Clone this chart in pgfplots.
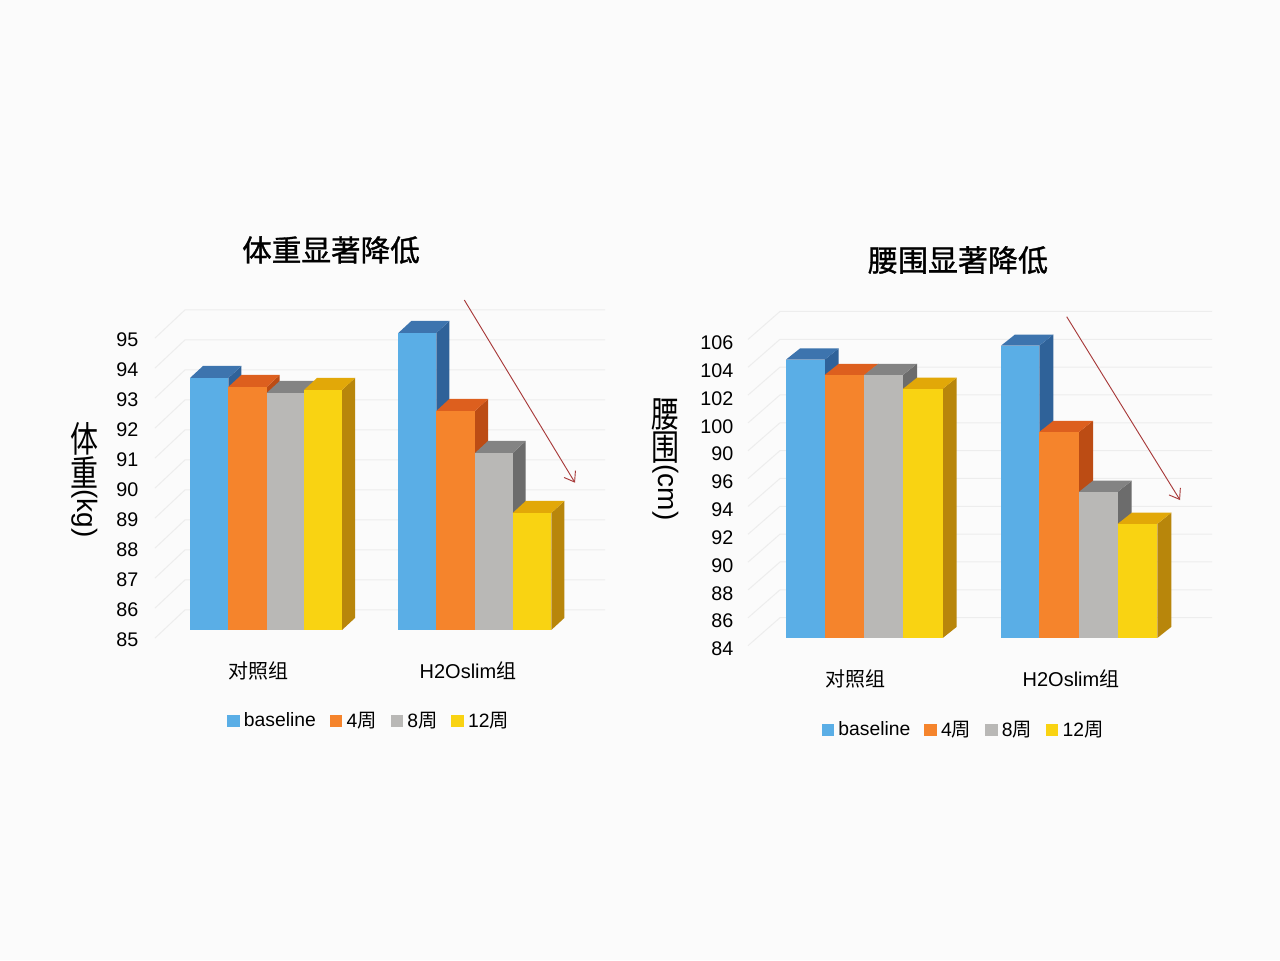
\documentclass[border=0pt]{standalone}
\usepackage{fontspec}
\usepackage{pgfplots}
\pgfplotsset{compat=1.18}
\usetikzlibrary{arrows.meta}
\setmainfont{Liberation Sans}
\newfontfamily\cjk{Noto Sans CJK SC}
\newfontfamily\cjktitle[FakeBold=1.1]{Noto Sans CJK SC}

\definecolor{pagebg}{HTML}{FBFBFB}
\definecolor{gridc}{HTML}{EDEDED}
\definecolor{arrowc}{HTML}{A83A3A}
\definecolor{blueF}{HTML}{5AAEE6}
\definecolor{blueT}{HTML}{3D74AE}
\definecolor{blueS}{HTML}{2F6299}
\definecolor{orangeF}{HTML}{F5842C}
\definecolor{orangeT}{HTML}{DD5F1E}
\definecolor{orangeS}{HTML}{BC4C14}
\definecolor{grayF}{HTML}{B9B8B6}
\definecolor{grayT}{HTML}{838383}
\definecolor{grayS}{HTML}{6C6C6C}
\definecolor{yellowF}{HTML}{F9D312}
\definecolor{yellowT}{HTML}{E2A808}
\definecolor{yellowS}{HTML}{B8860B}

% one 3d bar: x left, x right, value, colour prefix (x is in picture pixels)
\newcommand{\threedbar}[4]{%
  \pgfmathsetmacro\xb{#2+\depthx}%
  \pgfmathsetmacro\xc{#1+\depthx}%
  \pgfmathsetmacro\vb{#3+\depthy}%
  \pgfmathsetmacro\bb{\barbase+\depthy}%
  \addplot[forget plot,draw=none,fill=#4S] coordinates {(#2,\barbase)(#2,#3)(\xb,\vb)(\xb,\bb)};
  \addplot[forget plot,draw=none,fill=#4T] coordinates {(#1,#3)(#2,#3)(\xb,\vb)(\xc,\vb)};
  \addplot[forget plot,draw=none,fill=#4F] coordinates {(#1,\barbase)(#1,#3)(#2,#3)(#2,\barbase)};
}
% wall line of the fake 3d grid
\newcommand{\wallline}[1]{%
  \pgfmathsetmacro\vf{#1+\gridfront}%
  \pgfmathsetmacro\vk{#1+\gridback}%
  \addplot[forget plot,gridc,line width=0.75pt] coordinates {(\gridxa,\vf)(\gridxb,\vk)(\gridxc,\vk)};
}
\newcommand{\legendbox}[1]{%
  \addlegendimage{legend image code/.code={\fill[#1] (0pt,-4.2pt) rectangle (8.6pt,4.4pt);}}
}
% upright, slightly stretched character for the vertical axis titles
\newcommand{\upchar}[1]{\raisebox{-5.25pt}{\rotatebox{90}{\scalebox{1}[1.28]{\cjk #1}}}\hspace{1pt}}

\pgfplotsset{
  chart/.style={
    scale only axis,
    clip=false,
    axis line style={draw=none},
    major tick length=0pt,
    tick style={draw=none},
    tick label style={font=\fontsize{14.8}{16}\selectfont},
    /pgf/number format/assume math mode=true,
    xticklabel style={font=\fontsize{15}{17}\selectfont,anchor=center},
    legend columns=4,
    legend cell align=left,
    legend style={draw=none,fill=none,font=\fontsize{14.5}{16}\selectfont,
      /tikz/every even column/.append style={column sep=8.5pt},
      /tikz/every odd column/.append style={column sep=1.5pt}},
    every axis y label/.style={rotate=-90,anchor=center,font=\fontsize{21}{23}\selectfont},
  }
}

\begin{document}
\begin{tikzpicture}
\path[fill=pagebg] (0,0) rectangle (960pt,720pt);

% left chart: body weight
\begin{axis}[chart,
  at={(105pt,238.5pt)},anchor=south west,
  width=360pt,height=252pt,
  xmin=140,xmax=620,ymin=84.6,ymax=95.8,
  ytick={85,86,87,88,89,90,91,92,93,94,95},
  yticklabel style={yshift=-7.5pt,xshift=2.25pt},
  xtick={258,468},
  xticklabels={{\cjk 对照组},{H2Oslim\cjk 组}},
  xticklabel style={yshift=-21.75pt},
  title={\cjktitle 体重显著降低},
  title style={at={(axis description cs:0.398,1.1667)},anchor=center,yshift=-6pt,font=\fontsize{22.2}{24}\selectfont},
  ylabel={\upchar{体}\upchar{重}(kg)},
  every axis y label/.append style={at={(axis description cs:-0.1158,0.482)}},
  legend style={at={(axis description cs:0.4780,-0.235)},anchor=center},
]
\def\barbase{85}\def\depthx{13}\def\depthy{0.4}
\def\gridxa{155}\def\gridxb{185}\def\gridxc{605}\def\gridfront{-0.27}\def\gridback{0.67}
\pgfplotsinvokeforeach{85,86,87,88,89,90,91,92,93,94,95}{\wallline{#1}}
\threedbar{190}{228.3}{93.4}{blue}
\threedbar{228.3}{266.7}{93.1}{orange}
\threedbar{266.7}{304}{92.9}{gray}
\threedbar{304}{342}{93.0}{yellow}
\threedbar{398.3}{436.3}{94.9}{blue}
\threedbar{436.3}{475}{92.3}{orange}
\threedbar{475}{512.7}{90.9}{gray}
\threedbar{512.7}{551.3}{88.9}{yellow}
\draw[arrowc,line width=0.7pt,-{Straight Barb[length=7pt,width=10pt]}]
  (axis cs:464.3,96) -- (axis cs:575,89.91);
\legendbox{blueF}\addlegendentry{baseline}
\legendbox{orangeF}\addlegendentry{4{\cjk 周}}
\legendbox{grayF}\addlegendentry{8{\cjk 周}}
\legendbox{yellowF}\addlegendentry{12{\cjk 周}}
\end{axis}

% right chart: waist
\begin{axis}[chart,
  at={(551.25pt,231.06pt)},anchor=south west,
  width=363.75pt,height=255.78pt,
  xmin=735,xmax=1220,ymin=83,ymax=107.5,
  ytick={84,86,88,90,92,94,96,98,100,102,104,106},
  yticklabels={84,86,88,90,92,94,96,90,100,102,104,106},
  yticklabel style={yshift=-8.25pt,xshift=2.25pt},
  xtick={855,1071},
  xticklabels={{\cjk 对照组},{H2Oslim\cjk 组}},
  xticklabel style={yshift=-20pt},
  title={\cjktitle 腰围显著降低},
  title style={at={(axis description cs:0.4598,1.149)},anchor=center,yshift=-6pt,font=\fontsize{22.5}{24}\selectfont},
  ylabel={\upchar{腰}\upchar{围}(cm)},
  every axis y label/.append style={at={(axis description cs:-0.1443,0.5637)}},
  legend style={at={(axis description cs:0.4720,-0.2287)},anchor=center},
]
\def\barbase{84}\def\depthx{14}\def\depthy{0.8}
\def\gridxa{748}\def\gridxb{780}\def\gridxc{1212}\def\gridfront{-0.55}\def\gridback{1.46}
\pgfplotsinvokeforeach{84,86,88,90,92,94,96,98,100,102,104,106}{\wallline{#1}}
\threedbar{786}{824.7}{104.0}{blue}
\threedbar{824.7}{864.3}{102.9}{orange}
\threedbar{864.3}{903}{102.9}{gray}
\threedbar{903}{942.7}{101.9}{yellow}
\threedbar{1001}{1039.3}{105.0}{blue}
\threedbar{1039.3}{1079}{98.8}{orange}
\threedbar{1079}{1117.7}{94.5}{gray}
\threedbar{1117.7}{1157.3}{92.2}{yellow}
\draw[arrowc,line width=0.7pt,-{Straight Barb[length=7pt,width=10pt]}]
  (axis cs:1066.7,107.08) -- (axis cs:1180,93.91);
\legendbox{blueF}\addlegendentry{baseline}
\legendbox{orangeF}\addlegendentry{4{\cjk 周}}
\legendbox{grayF}\addlegendentry{8{\cjk 周}}
\legendbox{yellowF}\addlegendentry{12{\cjk 周}}
\end{axis}
\end{tikzpicture}
\end{document}
